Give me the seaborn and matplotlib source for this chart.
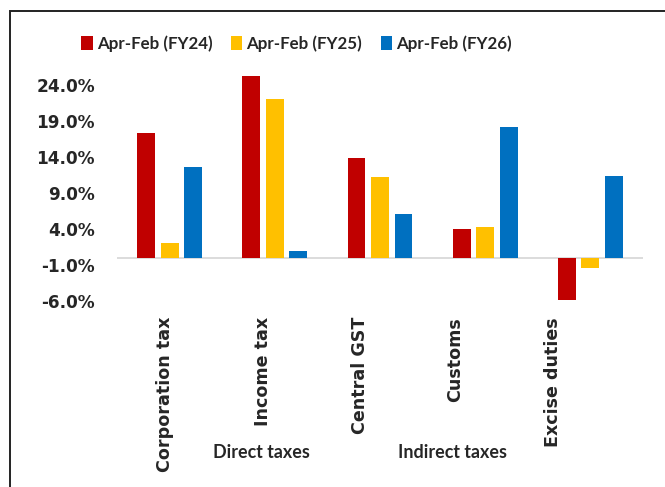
import matplotlib
matplotlib.use("Agg")
import matplotlib.pyplot as plt
import seaborn as sns
import pandas as pd
from matplotlib.patches import Rectangle

categories = ["Corporation tax", "Income tax", "Central GST", "Customs", "Excise duties"]
series_names = ["Apr-Feb (FY24)", "Apr-Feb (FY25)", "Apr-Feb (FY26)"]
fy24 = [17.4, 25.2, 13.8, 4.0, -5.8]
fy25 = [2.0, 22.1, 11.2, 4.3, -1.4]
fy26 = [12.6, 0.9, 6.1, 18.1, 11.4]
colors = ["#C00000", "#FFC000", "#0070C0"]
ytick_values = [-6, -1, 4, 9, 14, 19, 24]
group_labels = ["Direct taxes", "Indirect taxes"]

rows = []
for name, vals in zip(series_names, [fy24, fy25, fy26]):
    for c, v in zip(categories, vals):
        rows.append({"category": c, "period": name, "value": v})
df = pd.DataFrame(rows)

sns.set_theme(style="white")
plt.rcParams["font.family"] = ["Lato", "DejaVu Sans"]
plt.rcParams["font.weight"] = "bold"

fig = plt.figure(figsize=(6.65, 4.87), dpi=100)
ax = fig.add_axes([117 / 665, 1 - 301 / 487, (643 - 117) / 665, (301 - 70.6) / 487])

sns.barplot(data=df, x="category", y="value", hue="period", order=categories,
            hue_order=series_names, palette=colors, saturation=1,
            width=0.67, gap=0.24, linewidth=0, ax=ax)

ax.set_ylim(-6, 26)
ax.set_xlim(-0.5, 4.5)
ax.set_yticks(ytick_values)
ax.set_yticklabels([f"{v:.1f}%" for v in ytick_values], fontsize=12.2,
                   fontweight="bold", fontfamily="DejaVu Sans")
ax.tick_params(axis="y", length=0, pad=16)
for s in ax.spines.values():
    s.set_visible(False)
ax.axhline(0, color="#D9D9D9", lw=1.3, zorder=0)
ax.set_xlabel("")
ax.set_ylabel("")

# category labels (Excel multi-level axis offsets)
label_pos = [-0.043, 0.89, 1.81, 2.71, 3.64]
ax.set_xticks(label_pos)
ax.set_xticklabels(categories, rotation=90, fontsize=12.6, fontweight="bold",
                   fontfamily="DejaVu Sans")
ax.tick_params(axis="x", length=0, pad=11.5)

# group labels
fig.text(261 / 665, 1 - 452.7 / 487, group_labels[0], ha="center", va="center",
         fontsize=12.9, fontweight="bold")
fig.text(453 / 665, 1 - 452.7 / 487, group_labels[1], ha="center", va="center",
         fontsize=12.9, fontweight="bold")

leg = ax.get_legend()
handles = leg.legend_handles
leg.remove()
fig.legend(handles, series_names, loc="center", bbox_to_anchor=(296.5 / 665, 1 - 43.7 / 487),
           ncol=3, frameon=False, handlelength=0.66, handleheight=0.84,
           handletextpad=0.24, columnspacing=1.1, prop={"weight": "bold", "size": 12.2})

fig.patches.append(Rectangle((10 / 665, -0.1), 1.2, 1 - 11 / 487 + 0.1,
                             transform=fig.transFigure, fill=False,
                             edgecolor="#222222", lw=1.4))

fig.savefig("out.png", dpi=100)
